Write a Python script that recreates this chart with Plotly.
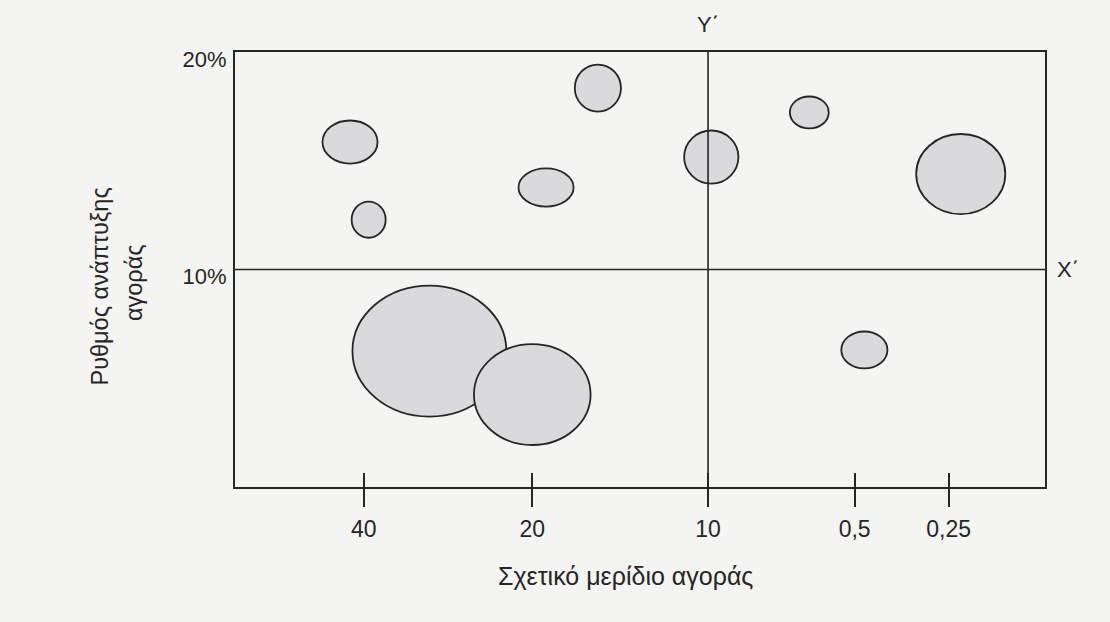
import plotly.graph_objects as go

# ---- data ----
share_labels = ["40", "20", "10", "0,5", "0,25"]
share_pos = [15.9, 36.7, 58.4, 76.5, 88.1]
growth_ticks = [20, 10]
growth_labels = ["20%", "10%"]

bubble_x = [14.2, 16.5, 44.8, 38.4, 24.0, 36.7, 58.8, 70.9, 89.6, 77.7]
bubble_y = [15.86, 12.29, 18.34, 13.77, 6.25, 4.25, 15.17, 17.22, 14.39, 6.30]
bubble_w = [6.8, 4.2, 5.7, 6.8, 19.0, 14.4, 6.7, 4.8, 11.0, 5.7]
bubble_h = [1.98, 1.66, 2.16, 1.75, 6.02, 4.64, 2.44, 1.47, 3.68, 1.70]

split_x = share_pos[share_labels.index("10")]
split_y = 10

FONT = "Liberation Sans, Arial, sans-serif"
INK = "#262626"
BG = "#f4f4f2"
FILL = "#dadadc"

fig = go.Figure()
fig.add_trace(go.Scatter(x=bubble_x, y=bubble_y, mode="markers",
                         marker=dict(size=1, opacity=0), showlegend=False,
                         hoverinfo="x+y"))
fig.add_trace(go.Scatter(x=[share_pos[0]], y=[0], xaxis="x2", mode="markers",
                         marker=dict(size=1, opacity=0), showlegend=False,
                         hoverinfo="skip"))

for x, y, w, h in zip(bubble_x, bubble_y, bubble_w, bubble_h):
    fig.add_shape(type="circle", xref="x", yref="y",
                  x0=x - w / 2, x1=x + w / 2, y0=y - h / 2, y1=y + h / 2,
                  fillcolor=FILL, line=dict(color=INK, width=1.8), layer="above")

fig.add_shape(type="line", xref="x", yref="y", x0=split_x, x1=split_x, y0=0, y1=20,
              line=dict(color=INK, width=1.6), layer="above")
fig.add_shape(type="line", xref="x", yref="y", x0=0, x1=100, y0=split_y, y1=split_y,
              line=dict(color=INK, width=1.6), layer="above")

fig.add_annotation(text="Y΄", x=split_x, xref="x", y=1, yref="paper",
                   xanchor="center", yanchor="middle", yshift=28,
                   showarrow=False, font=dict(family=FONT, size=22, color=INK))
fig.add_annotation(text="X΄", x=1, xref="paper", xanchor="left", xshift=10,
                   y=split_y, yref="y", yanchor="middle", showarrow=False,
                   font=dict(family=FONT, size=22, color=INK))
fig.add_annotation(text="Ρυθμός ανάπτυξης", textangle=-90,
                   x=-0.1666, xref="paper", y=0.461, yref="paper",
                   xanchor="center", yanchor="middle",
                   showarrow=False, font=dict(family=FONT, size=23.5, color=INK))
fig.add_annotation(text="αγοράς", textangle=-90,
                   x=-0.1247, xref="paper", y=0.471, yref="paper",
                   xanchor="center", yanchor="middle",
                   showarrow=False, font=dict(family=FONT, size=23.5, color=INK))
fig.add_annotation(text="Σχετικό μερίδιο αγοράς", x=0.482, xref="paper",
                   y=-0.205, yref="paper", xanchor="center", yanchor="middle",
                   showarrow=False, font=dict(family=FONT, size=25, color=INK))

fig.update_layout(
    width=1110, height=622,
    margin=dict(l=235, r=65, t=52, b=135),
    paper_bgcolor=BG, plot_bgcolor=BG,
    showlegend=False,
    xaxis=dict(range=[0, 100], showgrid=False, zeroline=False,
               showline=True, mirror=True, linecolor=INK, linewidth=2,
               tickmode="array", tickvals=share_pos, ticktext=share_labels,
               ticks="outside", ticklen=18, tickwidth=1.5, tickcolor=INK,
               ticklabelstandoff=2,
               tickfont=dict(family=FONT, size=23, color=INK)),
    xaxis2=dict(range=[0, 100], overlaying="x", anchor="y", side="bottom",
                showgrid=False, zeroline=False, showline=False,
                tickmode="array", tickvals=share_pos, ticks="inside",
                ticklen=14, tickwidth=1.5, tickcolor=INK, showticklabels=False),
    yaxis=dict(range=[0, 20], showgrid=False, zeroline=False,
               showline=True, mirror=True, linecolor=INK, linewidth=2,
               tickmode="array", tickvals=growth_ticks, ticktext=growth_labels,
               ticks="", ticklabelshift=7, ticklabelstandoff=2,
               tickfont=dict(family=FONT, size=22, color=INK)),
)

fig.write_html("out.html", config={"displayModeBar": False},
               post_script="document.body.style.margin='0';"
                           "document.body.style.background='#f4f4f2';")
